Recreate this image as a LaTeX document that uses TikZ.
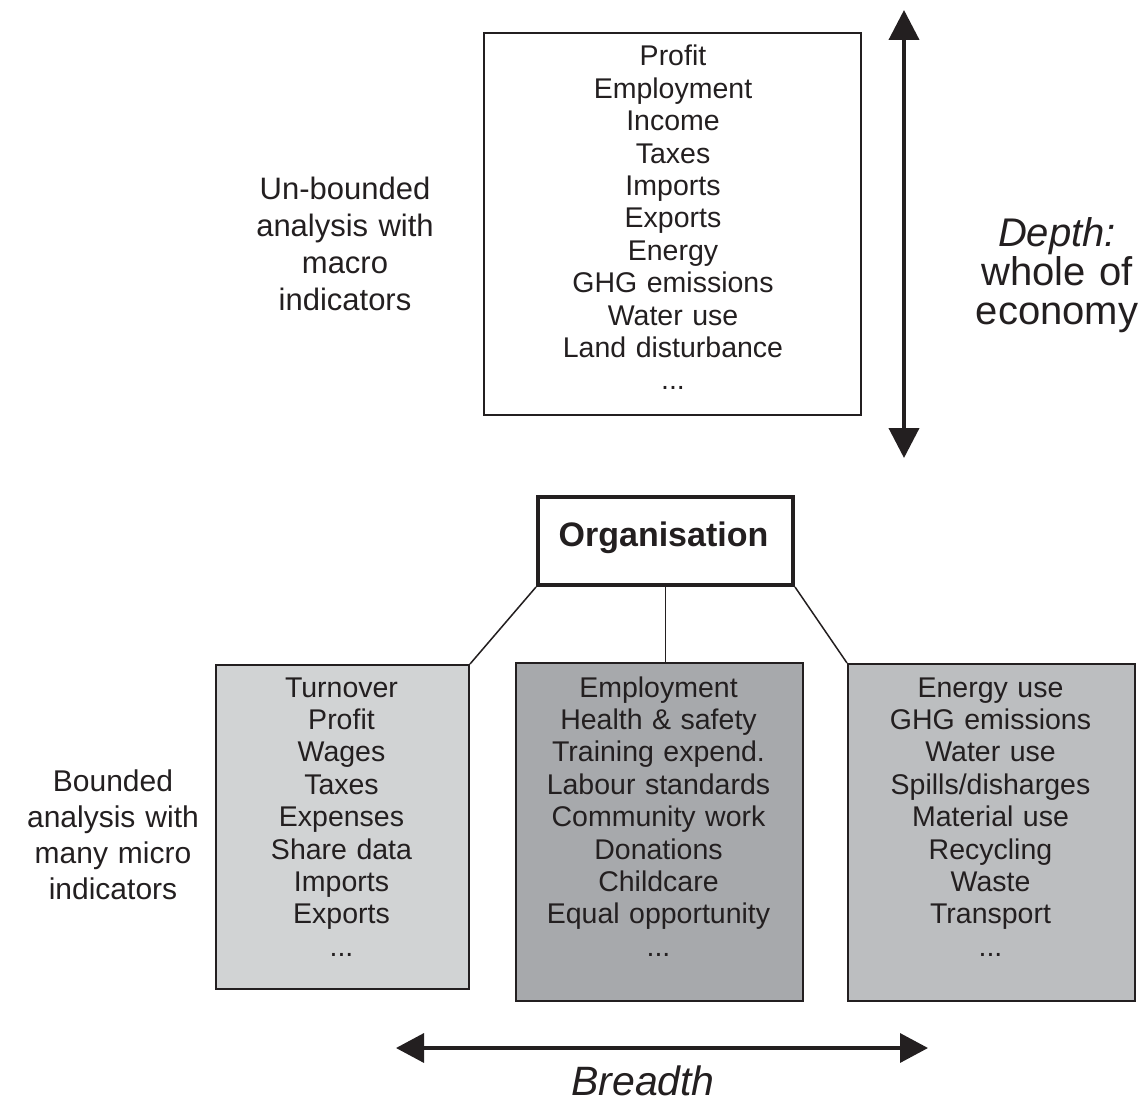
\documentclass[tikz,border=0pt]{standalone}
\usepackage{fontspec}
\setmainfont{Liberation Sans}
\usetikzlibrary{arrows.meta}
\definecolor{ink}{HTML}{231F20}
\definecolor{fillA}{HTML}{D1D3D4}
\definecolor{fillB}{HTML}{A7A9AC}
\definecolor{fillC}{HTML}{BCBEC0}
\begin{document}
\begin{tikzpicture}[x=1pt,y=-1pt,
  box/.style={draw=ink, line width=2pt, rectangle, inner sep=0pt, anchor=north west},
  items/.style={text=ink, font=\fontsize{28.5}{32.4}\selectfont, align=center, text width=320pt, anchor=base, inner sep=0pt},
  sidelabel/.style={text=ink, align=center, text width=260pt, anchor=base, inner sep=0pt},
  conn/.style={draw=ink, line width=1.5pt},
  dblarrow/.style={draw=ink, line width=4pt, {Triangle[length=30pt,width=30pt]}-{Triangle[length=30pt,width=30pt]}},
  hdblarrow/.style={draw=ink, line width=3.5pt, {Triangle[length=28pt,width=29pt]}-{Triangle[length=28pt,width=29pt]}}
]
\useasboundingbox (0,0) rectangle (1143,1108);

% top box
\node[box, minimum width=377pt, minimum height=382pt] (macro) at (483,32) {};
\node[items] (macrotext) at (673,66) {Profit\\Employment\\Income\\Taxes\\Imports\\Exports\\Energy\\GHG emissions\\Water use\\Land disturbance\\...};

% labels
\node[sidelabel, font=\fontsize{31}{37}\selectfont] (unb) at (345,199) {Un-bounded\\analysis with\\macro\\indicators};
\node[sidelabel, font=\fontsize{30}{36.3}\selectfont] (bnd) at (113,791) {Bounded\\analysis with\\many micro\\indicators};
\node[sidelabel, font=\fontsize{40}{39}\selectfont] (depth) at (1057,246) {\textit{Depth:}\\whole of\\economy};
\node[sidelabel, font=\fontsize{41}{45}\selectfont\itshape] (breadth) at (643,1095) {Breadth};

% vertical arrow
\coordinate (dtop) at (904,10);
\coordinate (dbot) at (904,458);
\draw[dblarrow] (dtop) -- (dbot);

% organisation
\node[box, line width=4pt, minimum width=255pt, minimum height=88pt] (org) at (536,495) {};
\node[text=ink, font=\fontsize{34}{40}\selectfont\bfseries, anchor=base, inner sep=0pt] (orgtext) at (663.5,546) {Organisation};

% lower boxes
\node[box, fill=fillA, minimum width=253pt, minimum height=324pt] (fin) at (215,664) {};
\node[box, fill=fillB, minimum width=287pt, minimum height=338pt] (soc) at (515,662) {};
\node[box, fill=fillC, minimum width=287pt, minimum height=337pt] (env) at (847,663) {};

\node[items] (fintext) at (341.5,697) {Turnover\\Profit\\Wages\\Taxes\\Expenses\\Share data\\Imports\\Exports\\...};
\node[items] (soctext) at (658.5,697) {Employment\\Health \& safety\\Training expend.\\Labour standards\\Community work\\Donations\\Childcare\\Equal opportunity\\...};
\node[items] (envtext) at (990.5,697) {Energy use\\GHG emissions\\Water use\\Spills/disharges\\Material use\\Recycling\\Waste\\Transport\\...};

% connectors
\draw[conn] (org.south west) -- (fin.north east);
\draw[conn, line width=1pt] (org.south) -- (org.south |- soc.north);
\draw[conn] (org.south east) -- (env.north west);

% horizontal arrow
\coordinate (bleft) at (396,1048);
\coordinate (bright) at (928,1048);
\draw[hdblarrow] (bleft) -- (bright);
\end{tikzpicture}
\end{document}
